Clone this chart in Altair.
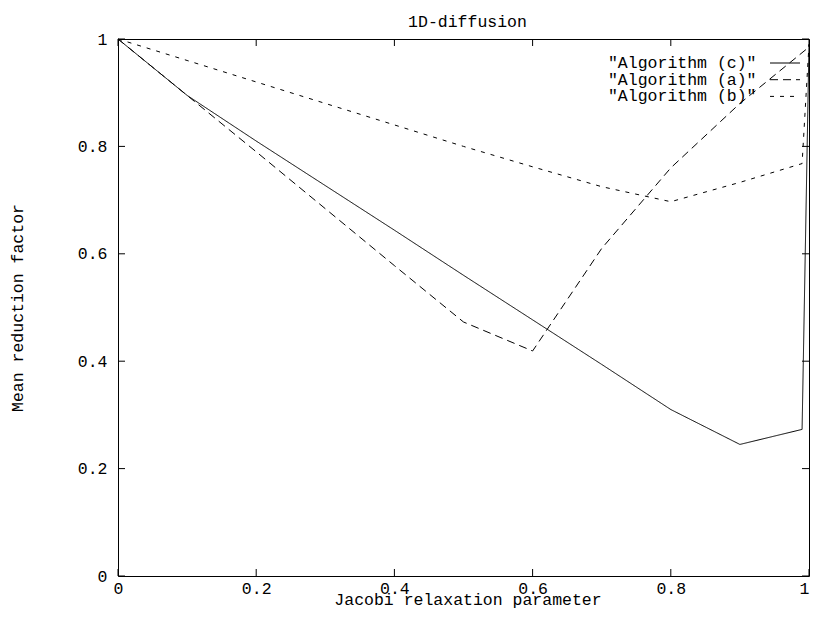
import altair as alt
import pandas as pd

# ---- data ----
X_C = [0.0, 0.1, 0.2, 0.3, 0.4, 0.5, 0.6, 0.7, 0.8, 0.9, 0.99, 1.0]
Y_C = [1.0, 0.895, 0.81, 0.727, 0.644, 0.56, 0.477, 0.394, 0.31, 0.245, 0.273, 0.99]

X_A = [0.0, 0.1, 0.2, 0.3, 0.4, 0.5, 0.6, 0.7, 0.8, 0.9, 1.0]
Y_A = [1.0, 0.895, 0.79, 0.684, 0.578, 0.473, 0.419, 0.61, 0.76, 0.88, 0.985]

X_B = [0.0, 0.1, 0.2, 0.3, 0.4, 0.5, 0.6, 0.7, 0.8, 0.9, 0.99, 1.0]
Y_B = [1.0, 0.96, 0.92, 0.88, 0.84, 0.80, 0.762, 0.725, 0.697, 0.733, 0.768, 0.99]

SERIES = ['"Algorithm (c)"', '"Algorithm (a)"', '"Algorithm (b)"']
DASHES = [[1, 0], [8, 5], [4, 6]]

X_TICKS = [0, 0.2, 0.4, 0.6, 0.8, 1.0]
Y_TICKS = [0, 0.2, 0.4, 0.6, 0.8, 1.0]

TITLE = "1D-diffusion"
X_TITLE = "Jacobi relaxation parameter"
Y_TITLE = "Mean reduction factor"

FONT = "Liberation Mono"
FS = 16.5
TOP = 31
W, H = 691, 537
TICK = 7

rows = []
for name, xs, ys in [(SERIES[0], X_C, Y_C), (SERIES[1], X_A, Y_A), (SERIES[2], X_B, Y_B)]:
    for xv, yv in zip(xs, ys):
        rows.append({"series": name, "x": xv, "y": yv})
df = pd.DataFrame(rows)

xscale = alt.Scale(domain=[0, 1], nice=False, zero=False)
yscale = alt.Scale(domain=[0, 1], nice=False, zero=False)

xaxis = alt.Axis(values=X_TICKS, format="~g", title=X_TITLE, labelPadding=4,
                 labelFlush=False,
                 labelAlign={"condition": {"test": "datum.value >= 1", "value": "right"},
                             "value": "center"},
                 titleX=349.5, titleY=28.5, titleAlign="center",
                 titleBaseline="alphabetic")
yaxis = alt.Axis(values=Y_TICKS, format="~g", title=Y_TITLE, labelPadding=11,
                 titleX=-101, titleY=H / 2, titleAlign="center",
                 titleBaseline="middle", titleAngle=270)

lines = alt.Chart(df).mark_line(strokeWidth=1, color="black").encode(
    x=alt.X("x:Q", scale=xscale, axis=xaxis),
    y=alt.Y("y:Q", scale=yscale, axis=yaxis),
    strokeDash=alt.StrokeDash("series:N", scale=alt.Scale(domain=SERIES, range=DASHES), legend=None),
    detail="series:N",
)

xt = pd.DataFrame({"x": X_TICKS})
yt = pd.DataFrame({"y": Y_TICKS})

tick_b = alt.Chart(xt).mark_rule(color="black", strokeWidth=1).encode(
    x=alt.X("x:Q", scale=xscale), y=alt.value(H), y2=alt.value(H - TICK))
tick_t = alt.Chart(xt).mark_rule(color="black", strokeWidth=1).encode(
    x=alt.X("x:Q", scale=xscale), y=alt.value(0), y2=alt.value(TICK))
tick_l = alt.Chart(yt).mark_rule(color="black", strokeWidth=1).encode(
    y=alt.Y("y:Q", scale=yscale), x=alt.value(0), x2=alt.value(TICK))
tick_r = alt.Chart(yt).mark_rule(color="black", strokeWidth=1).encode(
    y=alt.Y("y:Q", scale=yscale), x=alt.value(W), x2=alt.value(W - TICK))

title_df = pd.DataFrame({"t": [TITLE]})
title_mark = alt.Chart(title_df).mark_text(
    align="center", baseline="alphabetic", font=FONT, fontSize=FS, color="black"
).encode(text="t:N", x=alt.value(349.5), y=alt.value(-11.7))

legend_layers = []
for i, (name, dash) in enumerate(zip(SERIES, DASHES)):
    ld = pd.DataFrame({"name": [name]})
    yy = 24 + i * 16.7
    legend_layers.append(
        alt.Chart(ld).mark_text(align="right", baseline="middle", font=FONT,
                                fontSize=FS, color="black").encode(
            text="name:N", x=alt.value(638.5), y=alt.value(yy)))
    legend_layers.append(
        alt.Chart(ld).mark_rule(color="black", strokeWidth=1, strokeDash=dash).encode(
            x=alt.value(652), x2=alt.value(682), y=alt.value(yy)))

chart = alt.layer(lines, tick_b, tick_t, tick_l, tick_r, title_mark, *legend_layers).properties(
    width=W, height=H,
    autosize=alt.AutoSizeParams(type="none"),
    padding={"left": 110, "top": TOP, "right": 1, "bottom": 33},
).configure_view(stroke="black", strokeWidth=1).configure_axis(
    labelFont=FONT, labelFontSize=FS, labelColor="black",
    titleFont=FONT, titleFontSize=FS, titleFontWeight="normal", titleColor="black",
    grid=False, domain=False, ticks=False, tickSize=0,
)

chart.save("out.html", embed_options={"renderer": "svg", "actions": False})
